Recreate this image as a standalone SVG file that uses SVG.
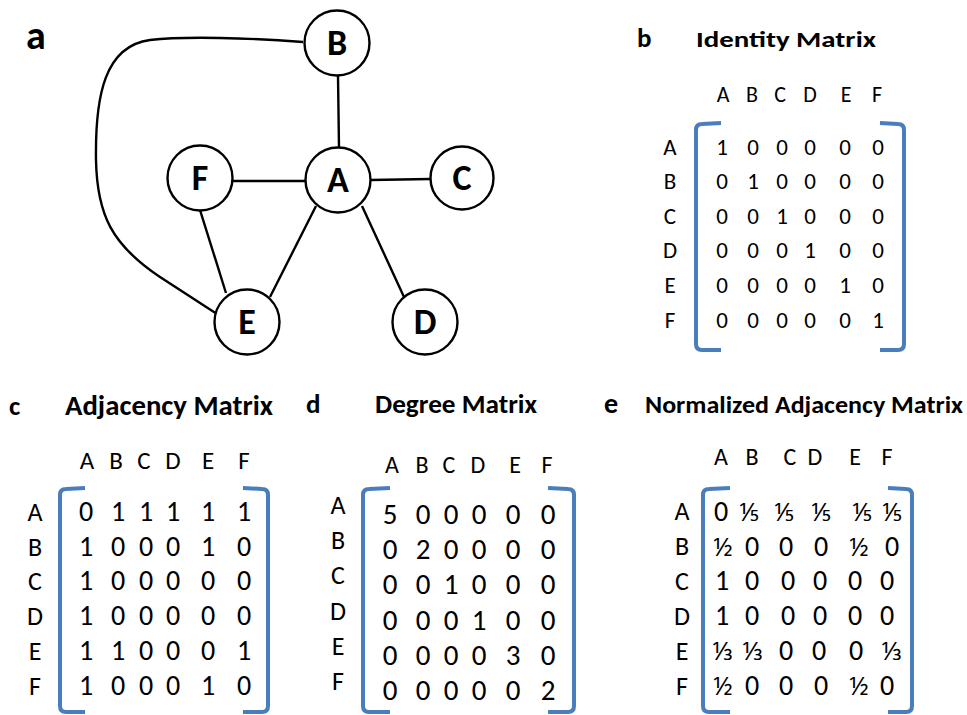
<svg xmlns="http://www.w3.org/2000/svg" width="967" height="715" viewBox="0 0 967 715">
  <style>
    text { font-family: Carlito, Calibri, Lato, "Open Sans", sans-serif; fill: #000; }
    .panel { font-weight: bold; font-size: 27px; }
    .title { font-weight: bold; font-size: 28px; }
    .hdr { font-size: 25px; text-anchor: middle; }
    .lbl { font-size: 26px; text-anchor: middle; }
    .cell { font-size: 28px; text-anchor: middle; }
    #matrix-identity .hdr { font-size: 22px; }
    #matrix-identity .lbl, #matrix-identity .cell { font-size: 23px; }
    #matrix-degree .hdr { font-size: 24px; }
    #matrix-degree .cell { font-size: 29px; }
    #matrix-normalized .hdr { font-size: 24px; }
    .frac { font-family: "Noto Sans", "DejaVu Sans", sans-serif; font-size: 25px; }
    .node circle { fill: #fff; stroke: #000; stroke-width: 2.4; }
    .node text { font-weight: bold; font-size: 36px; text-anchor: middle; }
    .edges path { fill: none; stroke: #000; stroke-width: 2.4; }
    .bracket { fill: none; stroke: #4a7ebb; stroke-width: 4; stroke-linejoin: round; }
  </style>

  <!-- panel a: graph -->
  <text class="panel" x="26" y="49" style="font-size:40px">a</text>

  <g class="edges" id="edges">
    <path d="M303,42 C250,38 185,36 150,40 C105,46 95,95 96,160 C97,215 112,245 160,277 L217,314"/>
    <path d="M338,76 L339,148"/>
    <path d="M232,181 L306,181"/>
    <path d="M370,180 L431,179"/>
    <path d="M200,210 L226,293"/>
    <path d="M316,206 L270,297"/>
    <path d="M362,206 L404,297"/>
  </g>

  <g class="node" id="node-B"><circle cx="337" cy="43" r="32.5"/><text x="337" y="55">B</text></g>
  <g class="node" id="node-A"><circle cx="338" cy="180" r="32.5"/><text x="338" y="192">A</text></g>
  <g class="node" id="node-F"><circle cx="200" cy="178" r="32.5"/><text x="200" y="190">F</text></g>
  <g class="node" id="node-C"><circle cx="462" cy="178" r="31.5"/><text x="462" y="190">C</text></g>
  <g class="node" id="node-E"><circle cx="247" cy="322" r="32.5"/><text x="247" y="334">E</text></g>
  <g class="node" id="node-D"><circle cx="425" cy="322" r="32.5"/><text x="425" y="334">D</text></g>

  <!-- panel b: identity matrix -->
  <g id="matrix-identity">
    <text class="panel" x="637" y="47" style="font-size:27px">b</text>
    <text class="title" x="696" y="47" style="font-size:23px" textLength="180" lengthAdjust="spacingAndGlyphs">Identity Matrix</text>
    <g class="hdr">
      <text x="723" y="102">A</text><text x="752" y="102">B</text><text x="780" y="102">C</text>
      <text x="810" y="102">D</text><text x="846" y="102">E</text><text x="877" y="102">F</text>
    </g>
    <g class="lbl">
      <text x="670" y="155">A</text><text x="670" y="189">B</text><text x="670" y="224">C</text>
      <text x="670" y="258">D</text><text x="670" y="293">E</text><text x="670" y="328">F</text>
    </g>
    <g class="cell">
      <text y="155"><tspan x="722">1</tspan><tspan x="753">0</tspan><tspan x="782">0</tspan><tspan x="810">0</tspan><tspan x="845">0</tspan><tspan x="878">0</tspan></text>
      <text y="189"><tspan x="722">0</tspan><tspan x="753">1</tspan><tspan x="782">0</tspan><tspan x="810">0</tspan><tspan x="845">0</tspan><tspan x="878">0</tspan></text>
      <text y="224"><tspan x="722">0</tspan><tspan x="753">0</tspan><tspan x="782">1</tspan><tspan x="810">0</tspan><tspan x="845">0</tspan><tspan x="878">0</tspan></text>
      <text y="258"><tspan x="722">0</tspan><tspan x="753">0</tspan><tspan x="782">0</tspan><tspan x="810">1</tspan><tspan x="845">0</tspan><tspan x="878">0</tspan></text>
      <text y="293"><tspan x="722">0</tspan><tspan x="753">0</tspan><tspan x="782">0</tspan><tspan x="810">0</tspan><tspan x="845">1</tspan><tspan x="878">0</tspan></text>
      <text y="328"><tspan x="722">0</tspan><tspan x="753">0</tspan><tspan x="782">0</tspan><tspan x="810">0</tspan><tspan x="845">0</tspan><tspan x="878">1</tspan></text>
    </g>
    <path class="bracket" d="M721,123 L702,124 Q696,124 696,130 L696,344 Q696,350 702,350 L721,350"/>
    <path class="bracket" d="M880,123 L898,124 Q904,124 904,130 L904,344 Q904,350 898,350 L880,350"/>
  </g>

  <!-- panel c: adjacency matrix -->
  <g id="matrix-adjacency">
    <text class="panel" x="9" y="415">c</text>
    <text class="title" x="65" y="415" textLength="208" lengthAdjust="spacingAndGlyphs">Adjacency Matrix</text>
    <g class="hdr">
      <text x="87" y="469">A</text><text x="116" y="469">B</text><text x="144" y="469">C</text>
      <text x="173" y="469">D</text><text x="208" y="469">E</text><text x="244" y="469">F</text>
    </g>
    <g class="lbl">
      <text x="35" y="521">A</text><text x="35" y="556">B</text><text x="35" y="590">C</text>
      <text x="35" y="625">D</text><text x="35" y="660">E</text><text x="35" y="695">F</text>
    </g>
    <g class="cell">
      <text y="521"><tspan x="86">0</tspan><tspan x="118">1</tspan><tspan x="146">1</tspan><tspan x="173">1</tspan><tspan x="208">1</tspan><tspan x="244">1</tspan></text>
      <text y="556"><tspan x="86">1</tspan><tspan x="118">0</tspan><tspan x="146">0</tspan><tspan x="173">0</tspan><tspan x="208">1</tspan><tspan x="244">0</tspan></text>
      <text y="590"><tspan x="86">1</tspan><tspan x="118">0</tspan><tspan x="146">0</tspan><tspan x="173">0</tspan><tspan x="208">0</tspan><tspan x="244">0</tspan></text>
      <text y="625"><tspan x="86">1</tspan><tspan x="118">0</tspan><tspan x="146">0</tspan><tspan x="173">0</tspan><tspan x="208">0</tspan><tspan x="244">0</tspan></text>
      <text y="660"><tspan x="86">1</tspan><tspan x="118">1</tspan><tspan x="146">0</tspan><tspan x="173">0</tspan><tspan x="208">0</tspan><tspan x="244">1</tspan></text>
      <text y="695"><tspan x="86">1</tspan><tspan x="118">0</tspan><tspan x="146">0</tspan><tspan x="173">0</tspan><tspan x="208">1</tspan><tspan x="244">0</tspan></text>
    </g>
    <path class="bracket" d="M85,488 L66,489 Q60,489 60,495 L60,706 Q60,712 66,712 L85,712"/>
    <path class="bracket" d="M243,488 L262,489 Q268,489 268,495 L268,706 Q268,712 262,712 L243,712"/>
  </g>

  <!-- panel d: degree matrix -->
  <g id="matrix-degree">
    <text class="panel" x="306" y="413">d</text>
    <text class="title" x="375" y="413" style="font-size:27px" textLength="162" lengthAdjust="spacingAndGlyphs">Degree Matrix</text>
    <g class="hdr">
      <text x="392" y="473">A</text><text x="422" y="473">B</text><text x="449" y="473">C</text>
      <text x="478" y="473">D</text><text x="515" y="473">E</text><text x="547" y="473">F</text>
    </g>
    <g class="lbl">
      <text x="338" y="514">A</text><text x="338" y="549">B</text><text x="338" y="584">C</text>
      <text x="338" y="620">D</text><text x="338" y="655">E</text><text x="338" y="690">F</text>
    </g>
    <g class="cell">
      <text y="524"><tspan x="390">5</tspan><tspan x="423">0</tspan><tspan x="451">0</tspan><tspan x="479">0</tspan><tspan x="513">0</tspan><tspan x="548">0</tspan></text>
      <text y="559"><tspan x="390">0</tspan><tspan x="423">2</tspan><tspan x="451">0</tspan><tspan x="479">0</tspan><tspan x="513">0</tspan><tspan x="548">0</tspan></text>
      <text y="594"><tspan x="390">0</tspan><tspan x="423">0</tspan><tspan x="451">1</tspan><tspan x="479">0</tspan><tspan x="513">0</tspan><tspan x="548">0</tspan></text>
      <text y="630"><tspan x="390">0</tspan><tspan x="423">0</tspan><tspan x="451">0</tspan><tspan x="479">1</tspan><tspan x="513">0</tspan><tspan x="548">0</tspan></text>
      <text y="665"><tspan x="390">0</tspan><tspan x="423">0</tspan><tspan x="451">0</tspan><tspan x="479">0</tspan><tspan x="513">3</tspan><tspan x="548">0</tspan></text>
      <text y="700"><tspan x="390">0</tspan><tspan x="423">0</tspan><tspan x="451">0</tspan><tspan x="479">0</tspan><tspan x="513">0</tspan><tspan x="548">2</tspan></text>
    </g>
    <path class="bracket" d="M390,488 L369,489 Q363,489 363,495 L363,706 Q363,712 369,712 L390,712"/>
    <path class="bracket" d="M548,488 L568,489 Q574,489 574,495 L574,706 Q574,712 568,712 L548,712"/>
  </g>

  <!-- panel e: normalized adjacency matrix -->
  <g id="matrix-normalized">
    <text class="panel" x="604" y="413" style="font-size:28px">e</text>
    <text class="title" x="645" y="413" style="font-size:24px" textLength="318" lengthAdjust="spacingAndGlyphs">Normalized Adjacency Matrix</text>
    <g class="hdr">
      <text x="721" y="465">A</text><text x="752" y="465">B</text><text x="790" y="465">C</text>
      <text x="815" y="465">D</text><text x="855" y="465">E</text><text x="887" y="465">F</text>
    </g>
    <g class="lbl">
      <text x="682" y="520">A</text><text x="682" y="555">B</text><text x="682" y="590">C</text>
      <text x="682" y="625">D</text><text x="682" y="660">E</text><text x="682" y="695">F</text>
    </g>
    <g class="cell">
      <text y="521"><tspan x="721">0</tspan><tspan class="frac" x="749">⅕</tspan><tspan class="frac" x="784">⅕</tspan><tspan class="frac" x="821">⅕</tspan><tspan class="frac" x="862">⅕</tspan><tspan class="frac" x="892">⅕</tspan></text>
      <text y="556"><tspan class="frac" x="723">½</tspan><tspan x="752">0</tspan><tspan x="786">0</tspan><tspan x="821">0</tspan><tspan class="frac" x="859">½</tspan><tspan x="892">0</tspan></text>
      <text y="590"><tspan x="722">1</tspan><tspan x="752">0</tspan><tspan x="788">0</tspan><tspan x="820">0</tspan><tspan x="855">0</tspan><tspan x="887">0</tspan></text>
      <text y="625"><tspan x="722">1</tspan><tspan x="752">0</tspan><tspan x="788">0</tspan><tspan x="820">0</tspan><tspan x="855">0</tspan><tspan x="887">0</tspan></text>
      <text y="660"><tspan class="frac" x="723">⅓</tspan><tspan class="frac" x="753">⅓</tspan><tspan x="786">0</tspan><tspan x="819">0</tspan><tspan x="856">0</tspan><tspan class="frac" x="892">⅓</tspan></text>
      <text y="695"><tspan class="frac" x="723">½</tspan><tspan x="752">0</tspan><tspan x="786">0</tspan><tspan x="821">0</tspan><tspan class="frac" x="859">½</tspan><tspan x="887">0</tspan></text>
    </g>
    <path class="bracket" d="M730,488 L709,489 Q703,489 703,495 L703,706 Q703,712 709,712 L730,712"/>
    <path class="bracket" d="M888,488 L906,489 Q912,489 912,495 L912,706 Q912,712 906,712 L888,712"/>
  </g>
</svg>
